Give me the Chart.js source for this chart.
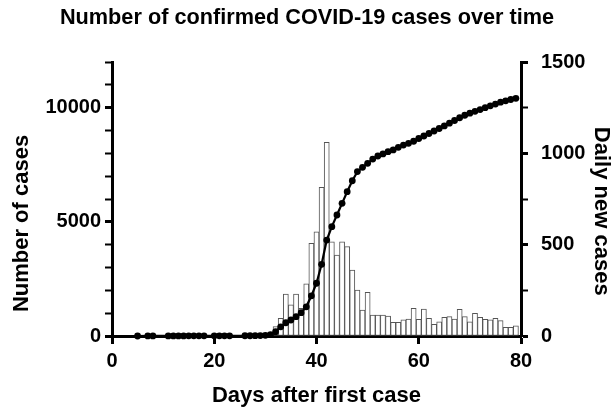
<!DOCTYPE html>
<html>
<head>
<meta charset="utf-8">
<script src="https://cdn.jsdelivr.net/npm/chart.js@4/dist/chart.umd.min.js"></script>
<style>
  html, body { margin: 0; padding: 0; background: #fff; }
  #wrap { width: 614px; height: 410px; }
</style>
</head>
<body>
<div id="wrap"><canvas id="covidChart"></canvas></div>
<script>
// cumulative confirmed cases, one entry per day (days without a point are left out)
const cumulativeDays = [5, 7, 8, 11, 12, 13, 14, 15, 16, 17, 18, 20, 21, 22, 23,
    26, 27, 28, 29, 30, 31, 32, 33, 34, 35, 36, 37, 38, 39, 40, 41, 42, 43, 44, 45,
    46, 47, 48, 49, 50, 51, 52, 53, 54, 55, 56, 57, 58, 59, 60, 61, 62, 63, 64, 65,
    66, 67, 68, 69, 70, 71, 72, 73, 74, 75, 76, 77, 78, 79];
const cumulativeCases = [1, 2, 3, 4, 4, 5, 5, 6, 6, 7, 7, 8, 8, 9, 9,
    10, 12, 15, 20, 30, 60, 190, 400, 580, 700, 845, 1020, 1280, 1760, 2310, 3140, 4200, 4790, 5300, 5810,
    6320, 6800, 7200, 7390, 7565, 7750, 7885, 7975, 8075, 8150, 8265, 8365, 8440, 8530, 8650, 8760, 8870, 8980, 9090, 9200,
    9320, 9440, 9560, 9670, 9760, 9840, 9920, 10000, 10080, 10160, 10240, 10300, 10360, 10410];

// daily new cases (bars), days 31..79
const dailyDays = [31, 32, 33, 34, 35, 36, 37, 38, 39, 40, 41, 42, 43, 44, 45,
    46, 47, 48, 49, 50, 51, 52, 53, 54, 55, 56, 57, 58, 59, 60, 61, 62, 63, 64, 65,
    66, 67, 68, 69, 70, 71, 72, 73, 74, 75, 76, 77, 78, 79];
const dailyCases = [12, 51, 97, 230, 170, 230, 152, 285, 507, 571, 814, 1060, 516, 443, 516,
    489, 361, 252, 142, 239, 115, 115, 115, 109, 75, 75, 88, 93, 152, 91, 148, 97, 64, 78, 102,
    106, 93, 146, 106, 78, 124, 102, 91, 88, 97, 84, 48, 48, 55];

const xTicks = [0, 20, 40, 60, 80];
const leftLabels = [0, 5000, 10000];
const rightLabels = [0, 500, 1000, 1500];

const ink = '#000000';
const fontFamily = '"Liberation Sans", Arial, sans-serif';

const axisTitle = (text, padding) => ({
    display: true,
    text: text,
    color: ink,
    font: { family: fontFamily, size: 22, weight: 'bold' },
    padding: padding
});
const tickFont = { family: fontFamily, size: 20, weight: 'bold' };

new Chart(document.getElementById('covidChart'), {
    type: 'bar',
    data: {
        datasets: [{
            type: 'line',
            label: 'Number of cases',
            data: cumulativeDays.map((d, i) => ({ x: d, y: cumulativeCases[i] })),
            yAxisID: 'y',
            borderColor: ink,
            borderWidth: 2.2,
            pointRadius: 3.4,
            pointBackgroundColor: ink,
            pointBorderWidth: 0,
            tension: 0,
            clip: false
        }, {
            type: 'bar',
            label: 'Daily new cases',
            data: dailyDays.map((d, i) => ({ x: d, y: dailyCases[i] })),
            yAxisID: 'y2',
            backgroundColor: '#ffffff',
            borderColor: '#555555',
            borderWidth: 1,
            borderSkipped: false,
            barPercentage: 1,
            categoryPercentage: 1
        }]
    },
    options: {
        responsive: true,
        maintainAspectRatio: false,
        animation: false,
        layout: { padding: 0 },
        plugins: {
            legend: { display: false },
            tooltip: { enabled: false },
            title: {
                display: true,
                text: 'Number of confirmed COVID-19 cases over time',
                color: ink,
                font: { family: fontFamily, size: 21.7, weight: 'bold' },
                padding: { top: 5, bottom: 31 }
            }
        },
        scales: {
            x: {
                type: 'linear',
                min: 0,
                max: 80,
                offset: false,
                afterFit: (s) => { s.height = 74; },
                afterBuildTicks: (s) => { s.ticks = xTicks.map(v => ({ value: v })); },
                border: { display: true, color: ink, width: 3 },
                grid: { drawOnChartArea: false, drawTicks: true, tickLength: 8, tickWidth: 3, tickColor: ink, offset: false },
                ticks: { color: ink, font: tickFont, padding: 5, maxRotation: 0 },
                title: axisTitle('Days after first case', { top: 0, bottom: 1 })
            },
            y: {
                type: 'linear',
                position: 'left',
                min: 0,
                max: 12000,
                afterFit: (s) => { s.width = 112; },
                border: { display: true, color: ink, width: 3 },
                grid: {
                    drawOnChartArea: false, drawTicks: true, tickLength: 7, tickColor: ink,
                    tickWidth: (c) => leftLabels.includes(c.tick.value) ? 3 : 2
                },
                ticks: {
                    stepSize: 1000, autoSkip: false, color: ink, font: tickFont, padding: 4,
                    callback: (v) => leftLabels.includes(v) ? String(v) : ''
                },
                // trailing spaces push the rotated title down, as in the original
                title: axisTitle('Number of cases        ', { top: 9, bottom: 0 })
            },
            y2: {
                type: 'linear',
                position: 'right',
                min: 0,
                max: 1500,
                afterFit: (s) => { s.width = 93; },
                border: { display: true, color: ink, width: 3 },
                grid: {
                    drawOnChartArea: false, drawTicks: true, tickLength: 7, tickColor: ink,
                    tickWidth: (c) => rightLabels.includes(c.tick.value) ? 3 : 2
                },
                ticks: {
                    stepSize: 250, autoSkip: false, color: ink, font: tickFont, padding: 13,
                    callback: (v) => rightLabels.includes(v) ? String(v) : ''
                },
                title: axisTitle('    Daily new cases', { top: 0, bottom: 0 })
            }
        }
    }
});
</script>
</body>
</html>
